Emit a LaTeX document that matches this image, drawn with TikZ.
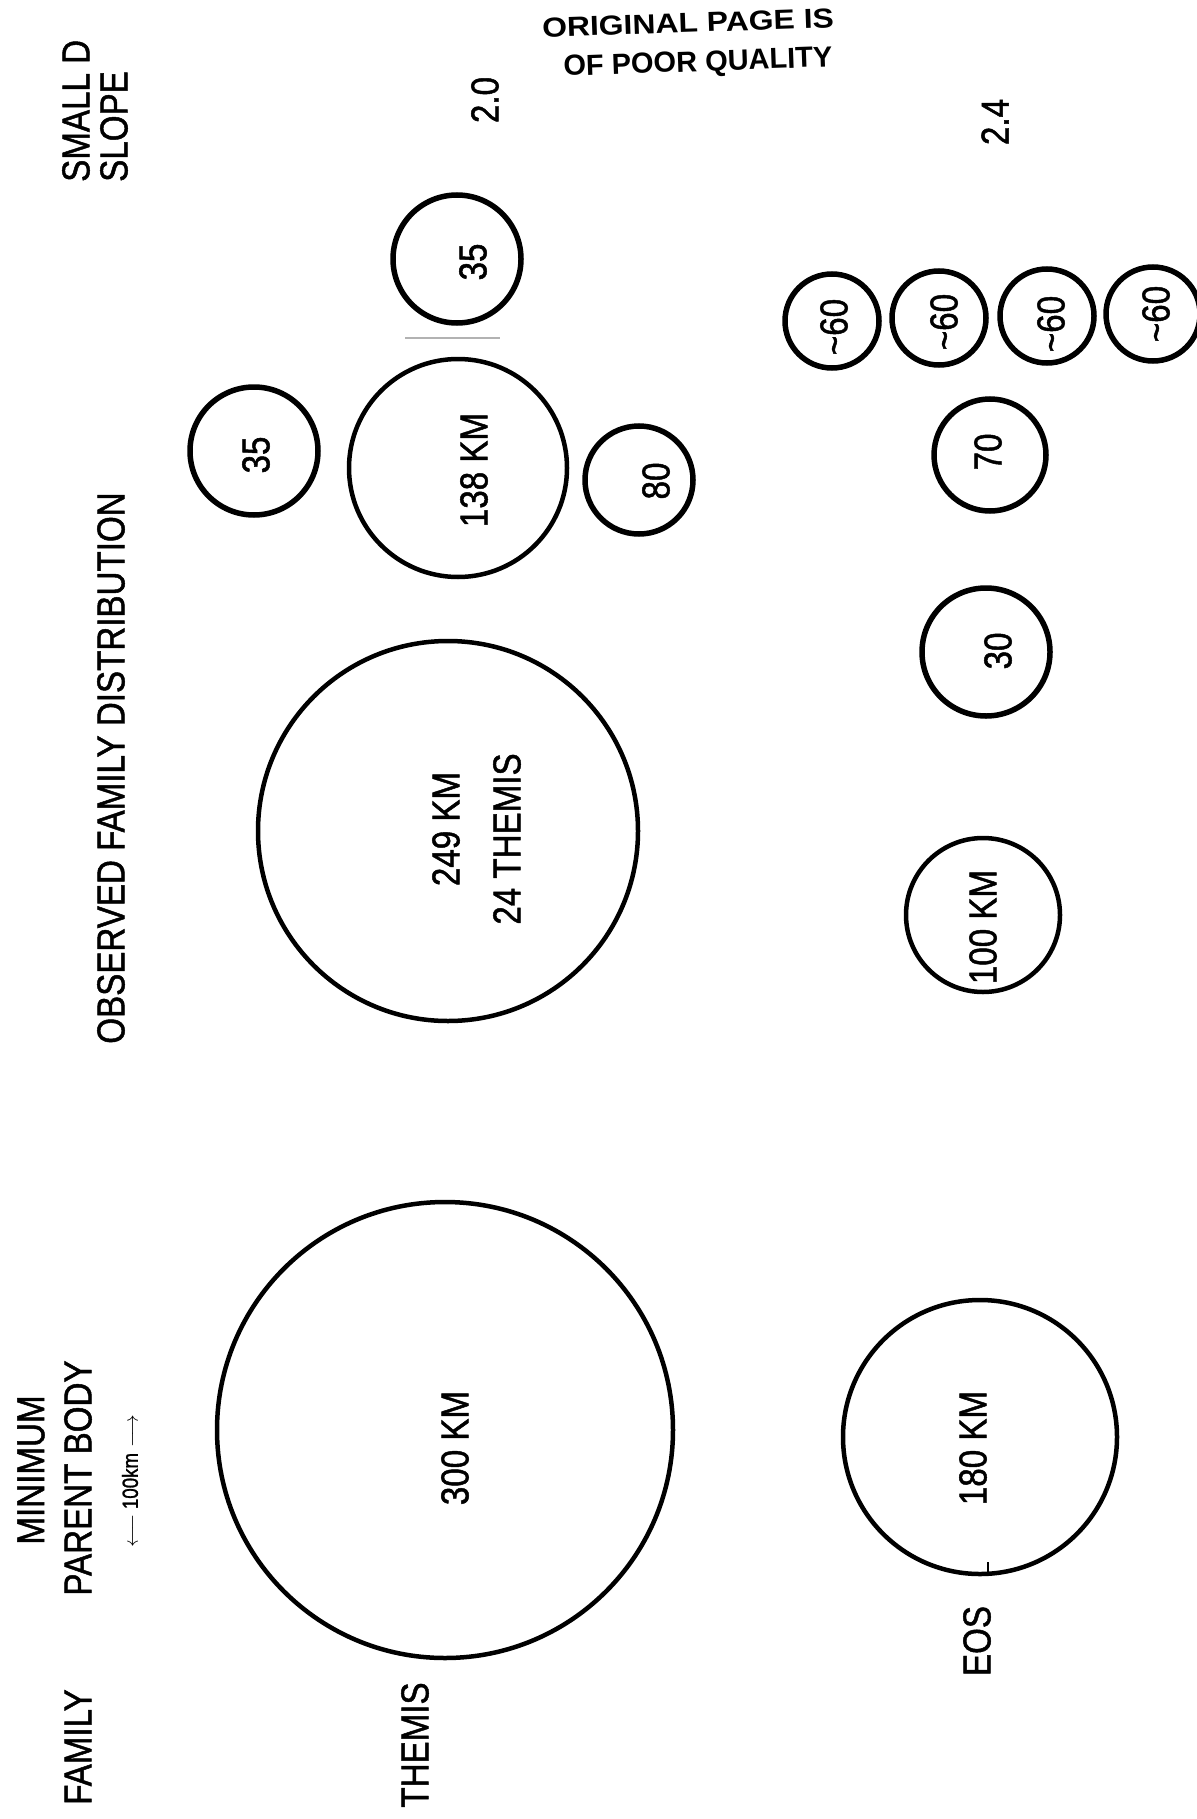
\documentclass[tikz,border=0pt]{standalone}
\usepackage{fontspec}
\newfontfamily\lerfont[FakeStretch=0.85,FakeBold=1.2]{Liberation Sans}
\newfontfamily\stampfont{Liberation Sans}
\tikzset{
  lab/.style={rotate=90, inner sep=0pt, font=\lerfont\fontsize{39}{40}\selectfont},
  small lab/.style={rotate=90, inner sep=0pt, font=\lerfont\fontsize{22}{24}\selectfont},
  stamp/.style={rotate=2, inner sep=0pt, font=\stampfont\bfseries\fontsize{29}{30}\selectfont},
  body/.style={circle, draw, line width=4.5pt, inner sep=0pt},
  frag/.style={circle, draw, line width=5.5pt, inner sep=0pt},
}
\begin{document}
\begin{tikzpicture}[x=1pt, y=-1pt]
\useasboundingbox (0,0) rectangle (1196,1819);
\fill[white] (0,0) rectangle (1196,1819);

% stamp
\node[stamp] (st1) at (688,23) {\scalebox{1.1}[0.95]{ORIGINAL PAGE IS}};
\node[stamp] (st2) at (698,64) {OF POOR QUALITY};

% headings
\node[lab, anchor=west] (small) at (76,182) {SMALL D};
\node[lab, anchor=west] (slope) at (114,182) {SLOPE};
\node[lab] (obs) at (111,768) {OBSERVED FAMILY DISTRIBUTION};
\node[lab] (minimum) at (31,1470) {MINIMUM};
\node[lab] (parent) at (78,1478) {PARENT BODY};
\node[small lab] (scale) at (130,1481) {$\longleftarrow$\ 100km\ $\longrightarrow$};
\node[lab] (family) at (78,1747) {FAMILY};
\node[lab] (slope20) at (485,100) {2.0};
\node[lab] (slope24) at (995,122) {2.4};

% Themis family
\node[body, minimum size=456pt] (themisP) at (445,1430) {};
\node[lab] (t300) at (455,1448) {300 KM};
\node[lab] (themisL) at (415,1745) {THEMIS};
\node[body, minimum size=380pt] (c249) at (448,831) {};
\node[lab] (t249) at (446,829) {249 KM};
\node[lab] (t24) at (507,839) {24 THEMIS};
\node[body, minimum size=218pt] (c138) at (458,468) {};
\node[lab] (t138) at (474,470) {138 KM};
\node[frag, minimum size=128pt] (c35a) at (457,259) {};
\node[lab] (t35a) at (473,262) {35};
\draw[gray!60, line width=1.5pt] (405,338) -- (500,338);
\node[frag, minimum size=128pt] (c35b) at (254,451) {};
\node[lab] (t35b) at (256,455) {35};
\node[frag, minimum size=108pt] (c80) at (639,480) {};
\node[lab] (t80) at (656,481) {80};

% Eos family
\node[body, minimum size=274pt] (eosP) at (980,1437) {};
\node[lab] (t180) at (973,1448) {180 KM};
\draw[line width=2pt] (eosP.south) ++(8,-14) coordinate (tk1) -- ++(0,14) coordinate (tk2);
\node[lab] (eosL) at (977,1641) {EOS};
\node[body, minimum size=154pt] (c100) at (983,915) {};
\node[lab] (t100) at (983,927) {100 KM};
\node[frag, minimum size=128pt] (c30) at (986,652) {};
\node[lab] (t30) at (998,651) {30};
\node[frag, minimum size=112pt] (c70) at (990,455) {};
\node[lab] (t70) at (988,452) {70};
\node[frag, minimum size=94pt] (c60a) at (832,321) {};
\node[lab] (t60a) at (834,327) {\textasciitilde60};
\node[frag, minimum size=94pt] (c60b) at (939,318) {};
\node[lab] (t60b) at (944,322) {\textasciitilde60};
\node[frag, minimum size=94pt] (c60c) at (1047,316) {};
\node[lab] (t60c) at (1051,324) {\textasciitilde60};
\node[frag, minimum size=94pt] (c60d) at (1153,314) {};
\node[lab] (t60d) at (1156,314) {\textasciitilde60};
\end{tikzpicture}
\end{document}
